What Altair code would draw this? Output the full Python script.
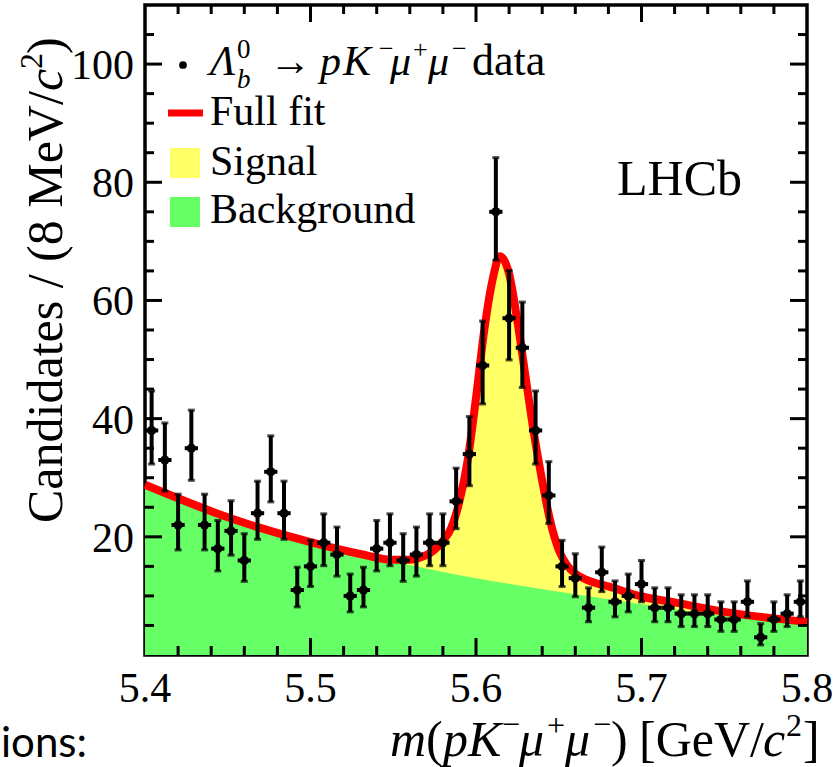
import altair as alt
import pandas as pd
import numpy as np

SERIF = "Liberation Serif"
W, H = 662, 650

# 8 MeV/c^2 bins between 5.40 and 5.80 GeV/c^2
bin_low = 5.40
bin_width = 0.008
counts = [38, 33, 22, 35, 22, 18, 21, 16, 24, 31,
          24, 11, 15, 19, 17, 10, 11, 18, 19, 16,
          17, 19, 19, 26, 34, 49, 75, 57, 52, 38,
          27, 15, 13, 8, 14, 9, 10, 12, 8, 8,
          7, 7, 7, 6, 6, 9, 3, 6, 7, 9]

# full fit (signal + background) sampled along the mass axis
fit_mass = [5.40, 5.45, 5.50, 5.53, 5.55, 5.56, 5.565, 5.57, 5.575, 5.58,
            5.585, 5.59, 5.595, 5.60, 5.605, 5.61, 5.6145, 5.62, 5.625, 5.63,
            5.635, 5.64, 5.645, 5.65, 5.655, 5.66, 5.67, 5.68, 5.70, 5.72,
            5.75, 5.80]
fit_total = [28.8, 23.3, 19.1, 17.1, 16.1, 16.1, 16.4, 16.9, 17.8, 19.3,
             21.5, 26.0, 33.0, 43.5, 55.0, 63.5, 67.5, 64.5, 56.5, 47.0,
             37.5, 29.5, 22.5, 17.8, 15.2, 13.8, 12.4, 11.6, 9.9, 8.9,
             7.3, 5.6]

# background component
bkg_mass = [5.40, 5.45, 5.50, 5.55, 5.60, 5.65, 5.70, 5.75, 5.80]
bkg_level = [28.8, 23.3, 19.0, 15.8, 13.0, 10.7, 8.6, 6.6, 5.0]

# axis tick values and labels
x_major = [5.4, 5.5, 5.6, 5.7, 5.8]
x_labels = ["5.4", "5.5", "5.6", "5.7", "5.8"]
x_minor = [round(5.4 + 0.02 * k, 2) for k in range(1, 20) if k % 5 != 0]
y_major = [20, 40, 60, 80, 100]
y_labels = ["20", "40", "60", "80", "100"]
y_minor = [v for v in range(5, 110, 5) if v % 20 != 0]

centers = [round(bin_low + bin_width * (i + 0.5), 4) for i in range(len(counts))]
n = np.array(counts, dtype=float)
err_up = 0.5 + np.sqrt(n + 0.25)
err_dn = -0.5 + np.sqrt(n + 0.25)
pts = pd.DataFrame({
    "m": centers,
    "n": counts,
    "lo": n - err_dn,
    "hi": n + err_up,
    "mlo": [c - bin_width / 2 for c in centers],
    "mhi": [c + bin_width / 2 for c in centers],
})
fit_df = pd.DataFrame({"m": fit_mass, "v": fit_total})
bkg_df = pd.DataFrame({"m": bkg_mass, "v": bkg_level})

xs = alt.Scale(domain=[5.4, 5.8], nice=False, zero=False)
ys = alt.Scale(domain=[0, 110], nice=False, zero=False)


def X(field):
    return alt.X(field, scale=xs, axis=None)


def Y(field):
    return alt.Y(field, scale=ys, axis=None)


signal = alt.Chart(fit_df).mark_area(color="#FFFF66", interpolate="monotone").encode(
    x=X("m:Q"), y=Y("v:Q"))
background = alt.Chart(bkg_df).mark_area(color="#66FF66", interpolate="monotone").encode(
    x=X("m:Q"), y=Y("v:Q"))
full_fit = alt.Chart(fit_df).mark_line(color="#FF0000", strokeWidth=8, interpolate="monotone").encode(
    x=X("m:Q"), y=Y("v:Q"))

xerr = alt.Chart(pts).mark_rule(color="black", strokeWidth=4).encode(
    x=X("mlo:Q"), x2="mhi:Q", y=Y("n:Q"))
yerr = alt.Chart(pts).mark_rule(color="black", strokeWidth=4).encode(
    x=X("m:Q"), y=Y("lo:Q"), y2="hi:Q")
cap_hi = alt.Chart(pts).mark_tick(color="black", orient="horizontal", size=7, thickness=3).encode(
    x=X("m:Q"), y=Y("hi:Q"))
cap_lo = alt.Chart(pts).mark_tick(color="black", orient="horizontal", size=7, thickness=3).encode(
    x=X("m:Q"), y=Y("lo:Q"))
dots = alt.Chart(pts).mark_circle(color="black", size=85, opacity=1).encode(
    x=X("m:Q"), y=Y("n:Q"))


def xticks(values, length):
    df = pd.DataFrame({"t": values})
    bottom = alt.Chart(df).mark_rule(color="black", strokeWidth=3).encode(
        x=X("t:Q"), y=alt.value(H), y2=alt.value(H - length))
    top = alt.Chart(df).mark_rule(color="black", strokeWidth=3).encode(
        x=X("t:Q"), y=alt.value(0), y2=alt.value(length))
    return [bottom, top]


def yticks(values, length):
    df = pd.DataFrame({"t": values})
    left = alt.Chart(df).mark_rule(color="black", strokeWidth=3).encode(
        y=Y("t:Q"), x=alt.value(0), x2=alt.value(length))
    right = alt.Chart(df).mark_rule(color="black", strokeWidth=3).encode(
        y=Y("t:Q"), x=alt.value(W), x2=alt.value(W - length))
    return [left, right]


x_tick_labels = alt.Chart(pd.DataFrame({"t": x_major, "s": x_labels})).mark_text(
    font=SERIF, fontSize=42, align="center", baseline="alphabetic", color="black").encode(
    x=X("t:Q"), y=alt.value(H + 47), text="s:N")
y_tick_labels = alt.Chart(pd.DataFrame({"t": y_major, "s": y_labels})).mark_text(
    font=SERIF, fontSize=42, align="right", baseline="alphabetic", color="black", dy=15).encode(
    y=Y("t:Q"), x=alt.value(-11), text="s:N")

anchor = pd.DataFrame({"k": [0]})


def text(txt, x, y, size=42, style="normal", align="left", angle=0, font=SERIF, color="black"):
    return alt.Chart(anchor).mark_text(
        text=txt, align=align, baseline="alphabetic", font=font, fontSize=size,
        fontStyle=style, angle=angle, color=color,
    ).encode(x=alt.value(x), y=alt.value(y))


def box(x1, x2, y1, y2, color):
    return alt.Chart(anchor).mark_rect(color=color).encode(
        x=alt.value(x1), x2=alt.value(x2), y=alt.value(y1), y2=alt.value(y2))


legend = [
    alt.Chart(anchor).mark_circle(color="black", size=60, opacity=1).encode(
        x=alt.value(38), y=alt.value(60)),
    text("Λ", 65, 70, style="italic"),
    text("0", 92, 53, size=27),
    text("b", 92, 83, size=27, style="italic"),
    text("→", 124, 70),
    text("p", 175, 70, style="italic"),
    text("K", 198, 70, style="italic"),
    text("−", 234, 52, size=26),
    text("μ", 245, 70, style="italic"),
    text("+", 268, 53, size=26),
    text("μ", 283, 70, style="italic"),
    text("−", 307, 52, size=26),
    text("data", 327, 70, size=44),
    alt.Chart(anchor).mark_rule(color="#FF0000", strokeWidth=7).encode(
        x=alt.value(23), x2=alt.value(58), y=alt.value(108)),
    text("Full fit", 65, 120),
    box(25, 55, 143, 173, "#FFFF66"),
    text("Signal", 65, 170),
    box(25, 55, 192, 222, "#66FF66"),
    text("Background", 65, 218),
    text("LHCb", 472, 190, size=50),
]

# axis titles with italic symbols and raised charges
titles = [
    text("m", 245, 751, size=50, style="italic"),
    text("(", 281, 751, size=50),
    text("p", 298, 751, size=50, style="italic"),
    text("K", 323, 751, size=50, style="italic"),
    text("−", 357, 730, size=32),
    text("μ", 374, 751, size=50, style="italic"),
    text("+", 402, 731, size=32),
    text("μ", 420, 751, size=50, style="italic"),
    text("−", 448, 730, size=32),
    text(")", 466, 751, size=50),
    text("[GeV/", 494, 751, size=50),
    text("c", 618, 751, size=50, style="italic"),
    text("2", 641, 731, size=32),
    text("]", 658, 751, size=50),
    text("Candidates / (8 MeV/", -83, 518, size=50, angle=270),
    text("c", -83, 86, size=50, angle=270, style="italic"),
    text("2", -103, 64, size=32, angle=270),
    text(")", -83, 49, size=50, angle=270),
    text("ions:", -144, 752, size=42, font="Lato"),
]

layers = [signal, background, full_fit, xerr, yerr, cap_hi, cap_lo, dots]
layers += xticks(x_major[1:-1], 17) + xticks(x_minor, 9)
layers += yticks(y_major, 17) + yticks(y_minor, 9)
layers += [x_tick_labels, y_tick_labels] + legend + titles

chart = alt.layer(*layers).properties(
    width=W, height=H,
    padding={"left": 145, "top": 5, "right": 30, "bottom": 112},
    autosize=alt.AutoSizeParams(type="none"),
).configure_view(stroke="black", strokeWidth=3.5)

chart.save("out.html", embed_options={"renderer": "svg", "actions": False})
